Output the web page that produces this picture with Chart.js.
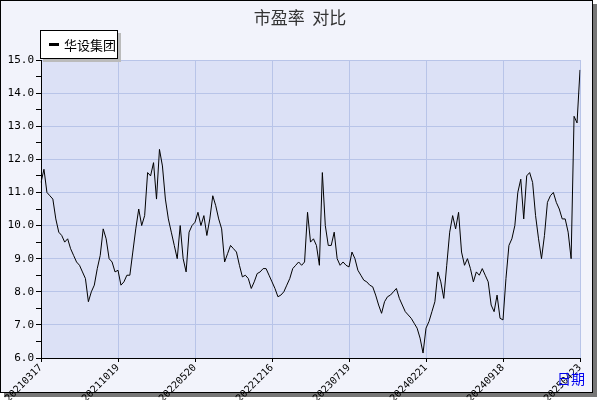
<!DOCTYPE html>
<html><head><meta charset="utf-8">
<script src="https://cdn.jsdelivr.net/npm/chart.js@4"></script>
<style>
html,body{margin:0;padding:0;background:#fff;}
#wrap{position:relative;width:600px;height:400px;}
#frame{position:absolute;left:0;top:0;width:591px;height:391px;border:1px solid #000;background:#f2f3fb;box-shadow:4px 4px 0 #777;}
#title{position:absolute;left:0;width:600px;top:4px;text-align:center;font:17px "Noto Sans CJK SC";color:#333;}
#legend{position:absolute;left:40px;top:30px;width:76px;height:27px;border:1px solid #000;background:#fff;box-shadow:3px 3px 0 #bbb;font:13px "Noto Sans CJK SC";line-height:27px;}
#legend span.l{display:inline-block;width:10px;height:3px;background:#000;margin:0 5px 4px 8px;vertical-align:middle;}
#xname{position:absolute;left:557px;top:368px;font:14px "Noto Sans CJK SC";color:#0000ee;}
canvas{position:absolute;left:0;top:0;}
</style></head>
<body><div id="wrap"><div id="frame"></div>
<canvas id="c" width="600" height="400"></canvas>
<div id="title">市盈率&nbsp;&nbsp;对比</div>
<div id="legend"><span class="l"></span>华设集团</div>
<div id="xname">日期</div></div>
<script>
const seriesName = "华设集团";
const tickDates = ["20210317","20211019","20220520","20221216","20230719","20240221","20240918","20250423"];
const peValues = [
11.3,11.7,11.0,10.9,10.8,10.2,9.8,9.7,9.5,9.6,9.3,9.1,8.9,8.8,8.6,8.4,7.7,8.0,8.2,8.7,9.1,9.9,9.6,9.0,8.9,8.6,
8.65,8.2,8.3,8.5,8.5,9.2,9.9,10.5,10.0,10.3,11.6,11.5,11.9,10.8,12.3,11.8,10.8,10.2,9.8,9.4,9.0,10.0,9.0,8.6,9.8,10.0,
10.1,10.4,10.0,10.3,9.7,10.2,10.9,10.6,10.2,9.9,8.9,9.15,9.4,9.3,9.2,8.8,8.45,8.5,8.4,8.1,8.3,8.55,8.6,8.7,8.7,8.5,
8.3,8.1,7.85,7.9,8.0,8.2,8.4,8.7,8.8,8.9,8.8,8.9,10.4,9.5,9.6,9.4,8.8,11.6,10.0,9.4,9.4,9.8,9.0,8.8,8.9,8.8,
8.75,9.2,9.0,8.65,8.5,8.35,8.3,8.2,8.15,7.9,7.6,7.35,7.7,7.85,7.9,8.0,8.1,7.8,7.6,7.4,7.3,7.2,7.05,6.9,6.6,6.15,
6.9,7.1,7.4,7.7,8.6,8.3,7.8,8.8,9.8,10.3,9.9,10.4,9.2,8.8,9.0,8.7,8.3,8.6,8.5,8.7,8.5,8.3,7.6,7.4,7.9,7.2,
7.15,8.4,9.4,9.6,10.0,11.0,11.4,10.2,11.5,11.6,11.3,10.3,9.6,9.0,9.7,10.7,10.9,11.0,10.7,10.5,10.2,10.2,9.8,9.0,13.3,13.1,14.7];
const step = 26;
const labels = peValues.map((v,i)=> i%step===0 ? tickDates[i/step] : "");
const font = {family:"DejaVu Sans Mono", size:11};
new Chart(document.getElementById('c'), {
  type:'line',
  data:{labels, datasets:[{label:seriesName, data:peValues, borderColor:'#000', borderWidth:1, pointRadius:0, tension:0}]},
  options:{
    responsive:false, animation:false,
    layout:{padding:{top:60,right:20,left:0,bottom:0}},
    plugins:{legend:{display:false}, tooltip:{enabled:false}},
    scales:{
      x:{type:'category', offset:false,
        afterFit:s=>{s.height=42;},
        border:{color:'#000',width:1},
        grid:{color:c=>c.index%step===0?'#b8c4e8':'rgba(0,0,0,0)', tickColor:c=>c.index%step===0?'#000':'rgba(0,0,0,0)', tickLength:4, drawOnChartArea:true},
        ticks:{autoSkip:false, maxRotation:45, minRotation:45, color:'#000', font:{family:"DejaVu Sans Mono", size:10}, padding:0,
          callback:(v,i)=>labels[i]}
      },
      y:{min:6,max:15,
        afterFit:s=>{s.width=41;},
        border:{color:'#000',width:1},
        grid:{color:c=>Math.abs(c.tick.value%1)<1e-6?'#b8c4e8':'rgba(0,0,0,0)', tickColor:'#000', tickLength:5},
        ticks:{stepSize:0.5, color:'#000', font, padding:2,
          callback:v=>Math.abs(v%1)<1e-6?v.toFixed(1):''}
      }
    }
  },
  plugins:[{id:'bg',beforeDraw(ch){const a=ch.chartArea,ctx=ch.ctx;ctx.save();ctx.fillStyle='#dce1f6';ctx.fillRect(a.left,a.top,a.right-a.left,a.bottom-a.top);ctx.restore();}}]
});
</script></body></html>
